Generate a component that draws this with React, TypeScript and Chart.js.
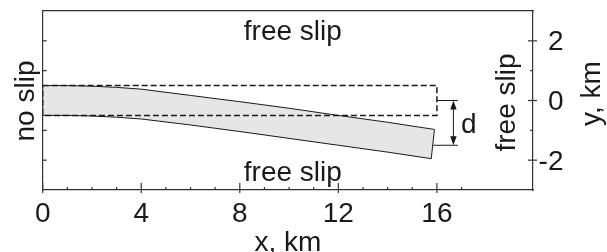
import { useEffect, useRef } from "react";
import { Chart, registerables } from "chart.js";

Chart.register(...registerables);

// ---- data ----
const X_MIN = 0;
const X_MAX = 19.9;
const Y_MIN = -3;
const Y_MAX = 3;

const X_TICK_VALUES = [0, 4, 8, 12, 16];
const X_TICK_LABELS = ["0", "4", "8", "12", "16"];
const X_MINOR_TICKS = [1, 2, 3, 5, 6, 7, 9, 10, 11, 13, 14, 15, 17];
const Y_TICK_VALUES = [-2, 0, 2];
const Y_TICK_LABELS = ["-2", "0", "2"];
const Y_MINOR_TICKS = [-1, 1];
const LEFT_TICKS = [-2, -1, 1, 2];

// bent plate (upper and lower edges)
const PLATE_TOP_X = [0, 1, 2, 3, 4, 6, 8, 10, 12, 14, 15.9];
const PLATE_TOP_Y = [0.5, 0.5, 0.48, 0.44, 0.38, 0.17, -0.04, -0.26, -0.5, -0.73, -0.97];
const PLATE_BOTTOM_X = [0, 1, 2, 3, 4, 6, 8, 10, 12, 14, 15.77];
const PLATE_BOTTOM_Y = [-0.5, -0.5, -0.52, -0.56, -0.62, -0.82, -1.04, -1.27, -1.5, -1.73, -1.95];

// undeformed reference box (dashed)
const BOX_X = [0, 16, 16, 0, 0];
const BOX_Y = [0.5, 0.5, -0.5, -0.5, 0.5];

// deflection "d" annotation
const D_TOP_X = [16, 16.85];
const D_TOP_Y = [0, 0];
const D_BOTTOM_X = [15.85, 16.85];
const D_BOTTOM_Y = [-1.5, -1.5];
const D_ARROW_X = 16.67;
const D_ARROW_Y = [0, -1.5];

// text annotations
const TOP_LABEL = "free slip";
const BOTTOM_LABEL = "free slip";
const LEFT_LABEL = "no slip";
const RIGHT_LABEL = "free slip";
const D_LABEL = "d";
const X_TITLE = "x, km";
const Y_TITLE = "y, km";

// ---- styles ----
const FONT_FAMILY = '"Liberation Sans", Arial, Helvetica, sans-serif';
const FONT = `28px ${FONT_FAMILY}`;
const TEXT_COLOR = "#1a1a1a";
const AXIS_COLOR = "#333333";
const LINE_COLOR = "#1a1a1a";
const PLATE_FILL = "#e6e6e6";

const pts = (xs: number[], ys: number[]) => xs.map((x, i) => ({ x, y: ys[i] }));

const platePoints = [
  ...pts(PLATE_TOP_X, PLATE_TOP_Y),
  ...pts(PLATE_BOTTOM_X, PLATE_BOTTOM_Y).reverse(),
  { x: PLATE_TOP_X[0], y: PLATE_TOP_Y[0] },
];

const annotPlugin = {
  id: "annot",
  afterDraw(chart: any) {
    const { ctx, chartArea: a, scales } = chart;
    const xs = scales.x;
    const ys = scales.y;
    ctx.save();

    const seg = (x1: number, y1: number, x2: number, y2: number) => {
      ctx.beginPath();
      ctx.moveTo(x1, y1);
      ctx.lineTo(x2, y2);
      ctx.stroke();
    };

    // tick marks
    ctx.strokeStyle = AXIS_COLOR;
    ctx.lineWidth = 1.2;
    X_TICK_VALUES.forEach((v) => {
      const px = xs.getPixelForValue(v);
      seg(px, a.bottom - 7, px, a.bottom + 3);
    });
    X_MINOR_TICKS.forEach((v) => {
      const px = xs.getPixelForValue(v);
      seg(px, a.bottom - 3, px, a.bottom);
    });
    Y_TICK_VALUES.forEach((v) => {
      const py = ys.getPixelForValue(v);
      seg(a.right - 5, py, a.right + 4, py);
    });
    Y_MINOR_TICKS.forEach((v) => {
      const py = ys.getPixelForValue(v);
      seg(a.right - 3, py, a.right, py);
    });
    LEFT_TICKS.forEach((v) => {
      const py = ys.getPixelForValue(v);
      seg(a.left, py, a.left + 4, py);
    });

    // arrow for d
    ctx.strokeStyle = LINE_COLOR;
    ctx.fillStyle = LINE_COLOR;
    ctx.lineWidth = 1;
    const ax = xs.getPixelForValue(D_ARROW_X);
    const ay1 = ys.getPixelForValue(D_ARROW_Y[0]);
    const ay2 = ys.getPixelForValue(D_ARROW_Y[1]);
    const headL = 9;
    const headW = 3.2;
    seg(ax, ay1 + headL - 1, ax, ay2 - headL + 1);
    ctx.beginPath();
    ctx.moveTo(ax, ay1);
    ctx.lineTo(ax - headW, ay1 + headL);
    ctx.lineTo(ax + headW, ay1 + headL);
    ctx.closePath();
    ctx.fill();
    ctx.beginPath();
    ctx.moveTo(ax, ay2);
    ctx.lineTo(ax - headW, ay2 - headL);
    ctx.lineTo(ax + headW, ay2 - headL);
    ctx.closePath();
    ctx.fill();

    // text
    ctx.font = FONT;
    ctx.fillStyle = TEXT_COLOR;
    ctx.textBaseline = "alphabetic";

    ctx.textAlign = "center";
    X_TICK_VALUES.forEach((v, i) => {
      ctx.fillText(X_TICK_LABELS[i], xs.getPixelForValue(v), a.bottom + 31.5);
    });
    ctx.textAlign = "right";
    Y_TICK_VALUES.forEach((v, i) => {
      ctx.fillText(Y_TICK_LABELS[i], a.right + 30.5, ys.getPixelForValue(v) + 9.5);
    });

    const cx = (a.left + a.right) / 2;
    ctx.textAlign = "center";
    ctx.fillText(TOP_LABEL, cx + 5, a.top + 29);
    ctx.fillText(BOTTOM_LABEL, cx + 5, a.bottom - 9.5);
    ctx.fillText(X_TITLE, cx, a.bottom + 60.5);

    ctx.textAlign = "left";
    ctx.fillText(D_LABEL, ax + 7.5, ys.getPixelForValue(-1.1));

    const rot = (text: string, bx: number, cy: number) => {
      ctx.save();
      ctx.translate(bx, cy);
      ctx.rotate(-Math.PI / 2);
      ctx.textAlign = "center";
      ctx.fillText(text, 0, 0);
      ctx.restore();
    };
    const my = (a.top + a.bottom) / 2;
    rot(LEFT_LABEL, a.left - 9, my + 0.5);
    rot(RIGHT_LABEL, a.right - 18.5, my + 2);
    rot(Y_TITLE, a.right + 67, my - 7);

    ctx.restore();
  },
};

export default function App() {
  const ref = useRef<HTMLCanvasElement>(null);
  useEffect(() => {
    const axisCommon = {
      type: "linear" as const,
      ticks: { display: false },
      grid: { display: false, drawTicks: false },
      border: { display: true, color: AXIS_COLOR, width: 1.2 },
    };
    const chart = new Chart(ref.current!, {
      type: "scatter",
      data: {
        datasets: [
          {
            data: pts(BOX_X, BOX_Y),
            showLine: true,
            borderColor: LINE_COLOR,
            borderWidth: 1.5,
            borderDash: [6, 3],
            pointRadius: 0,
            fill: false,
            order: 0,
          },
          {
            data: pts(D_TOP_X, D_TOP_Y),
            showLine: true,
            borderColor: LINE_COLOR,
            borderWidth: 1,
            pointRadius: 0,
            order: 0,
          },
          {
            data: pts(D_BOTTOM_X, D_BOTTOM_Y),
            showLine: true,
            borderColor: LINE_COLOR,
            borderWidth: 1,
            pointRadius: 0,
            order: 0,
          },
          {
            data: platePoints,
            showLine: true,
            borderColor: LINE_COLOR,
            borderWidth: 1,
            backgroundColor: PLATE_FILL,
            pointRadius: 0,
            fill: "shape",
            order: 1,
          } as any,
        ],
      },
      options: {
        animation: false,
        responsive: false,
        devicePixelRatio: 1,
        events: [],
        layout: { padding: { left: 42.7, right: 74, top: 11, bottom: 62 } },
        plugins: { legend: { display: false }, tooltip: { enabled: false } },
        scales: {
          x: { ...axisCommon, position: "bottom", min: X_MIN, max: X_MAX },
          xTop: { ...axisCommon, position: "top", min: X_MIN, max: X_MAX },
          y: { ...axisCommon, position: "right", min: Y_MIN, max: Y_MAX },
          yLeft: { ...axisCommon, position: "left", min: Y_MIN, max: Y_MAX },
        },
      } as any,
      plugins: [annotPlugin],
    });
    return () => chart.destroy();
  }, []);
  return (
    <div style={{ position: "fixed", left: 0, top: 0, width: 607, height: 252, background: "#fff" }}>
      <canvas ref={ref} width={607} height={252} style={{ display: "block" }} />
    </div>
  );
}
